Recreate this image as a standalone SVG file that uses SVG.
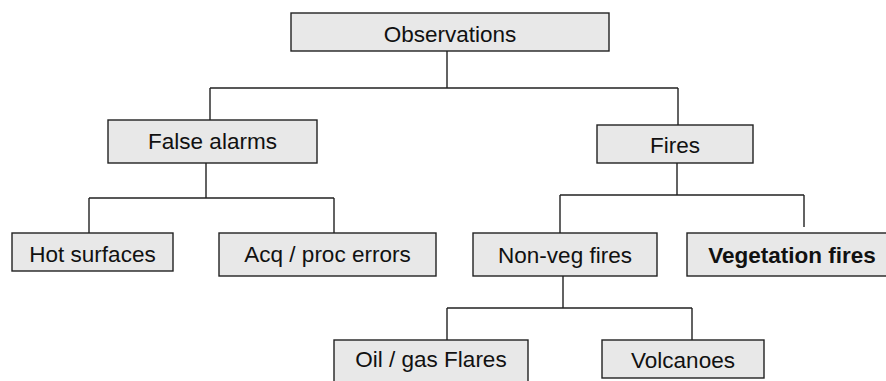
<svg xmlns="http://www.w3.org/2000/svg" width="886" height="381" viewBox="0 0 886 381">
<style>
.box{fill:#e8e8e8;stroke:#222;stroke-width:1.4}
.lbl{font-family:"Liberation Sans",Arial,sans-serif;font-size:22.5px;fill:#111;text-anchor:middle}
.b{font-weight:bold}
.ln{fill:none;stroke:#222;stroke-width:1.4}
</style>
<rect width="886" height="381" fill="#fff"/>
<g id="connectors">
<path class="ln" d="M447 51V88M210 88H678M210 88V120M678 88V125"/>
<path class="ln" d="M206 163V198M89 198H334M89 198V233M334 198V233"/>
<path class="ln" d="M677 163V195M560 195H804M560 195V233M804 195V227"/>
<path class="ln" d="M563 276V308M447 308H692M447 308V340M692 308V340"/>
</g>
<g id="observations"><rect class="box" x="291" y="13" width="318" height="38"/><text class="lbl" x="450" y="41.5">Observations</text></g>
<g id="false-alarms"><rect class="box" x="108" y="120" width="209" height="43"/><text class="lbl" x="212.5" y="149.3">False alarms</text></g>
<g id="fires"><rect class="box" x="597" y="125" width="156" height="38"/><text class="lbl" x="675" y="153.3">Fires</text></g>
<g id="hot-surfaces"><rect class="box" x="12" y="233" width="161" height="38"/><text class="lbl" x="92.5" y="261.7">Hot surfaces</text></g>
<g id="acq-proc-errors"><rect class="box" x="219" y="233" width="217" height="43"/><text class="lbl" x="327.5" y="261.7">Acq / proc errors</text></g>
<g id="non-veg-fires"><rect class="box" x="473" y="233" width="184" height="43"/><text class="lbl" x="565" y="262.7">Non-veg fires</text></g>
<g id="vegetation-fires"><rect class="box" x="687" y="233" width="210" height="43"/><text class="lbl b" x="792" y="262.7">Vegetation fires</text></g>
<g id="oil-gas-flares"><rect class="box" x="334" y="340" width="194" height="45"/><text class="lbl" x="431" y="367">Oil / gas Flares</text></g>
<g id="volcanoes"><rect class="box" x="602" y="340" width="162" height="38"/><text class="lbl" x="683" y="368.3">Volcanoes</text></g>
</svg>
